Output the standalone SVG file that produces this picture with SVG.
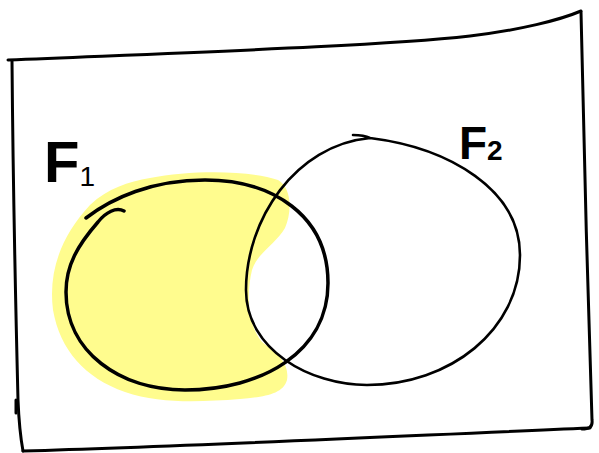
<svg xmlns="http://www.w3.org/2000/svg" width="599" height="453" viewBox="0 0 599 453">
<style>
.ink{fill:none;stroke:#000;stroke-linecap:round;stroke-linejoin:round}
.lbl{font-family:"Liberation Sans",Arial,sans-serif;font-weight:bold;fill:#000}
</style>
<rect width="599" height="453" fill="#fff"/>
<g id="highlight">
<path d="M150,178 C190,170 250,170 278,180 C292,188 292,212 285,228 C275,245 258,252 252,270 C246,295 248,325 262,342 C275,352 290,362 287,380 C283,395 262,397 240,399 C200,402 160,404 125,392 C85,378 60,350 53,310 C48,270 62,235 90,205 C108,188 128,182 150,178 Z" fill="#fffc8e"/>
</g>
<g id="frame">
<path class="ink" stroke-width="3" d="M8,60 C200,52 380,46 470,36 C520,30 560,20 581,11"/>
<path class="ink" stroke-width="3" d="M581,12 C583,120 588,300 592,420 C593,428 588,429 582,429"/>
<path class="ink" stroke-width="3" d="M590,428 C400,436 200,446 23,451"/>
<path class="ink" stroke-width="3" d="M12,61 C13,180 16,320 18,400 C19,425 21,440 23,451"/>
<path class="ink" stroke-width="3" d="M16,400 L16,413"/>
</g>
<g id="set-F1">
<path class="ink" stroke-width="3.5" d="M124,211 C116,207 106,212 98,222 C78,245 66,265 66,292 C66,352 120,390 185,390 C262,390 328,352 328,283 C328,215 272,180 205,180 C152,180 112,198 86,218"/>
</g>
<g id="set-F2">
<path class="ink" stroke-width="2.6" d="M353,135 C360,135 366,136 370,138 C450,148 520,190 520,255 C520,330 450,385 367,385 C310,385 246,350 246,290 C246,220 295,145 370,138"/>
</g>
<g id="labels">
<text class="lbl" x="44" y="182" font-size="58">F<tspan font-size="28" font-weight="normal" dy="4">1</tspan></text>
<text class="lbl" x="459" y="159" font-size="46">F<tspan font-size="28" dy="1">2</tspan></text>
</g>
</svg>
